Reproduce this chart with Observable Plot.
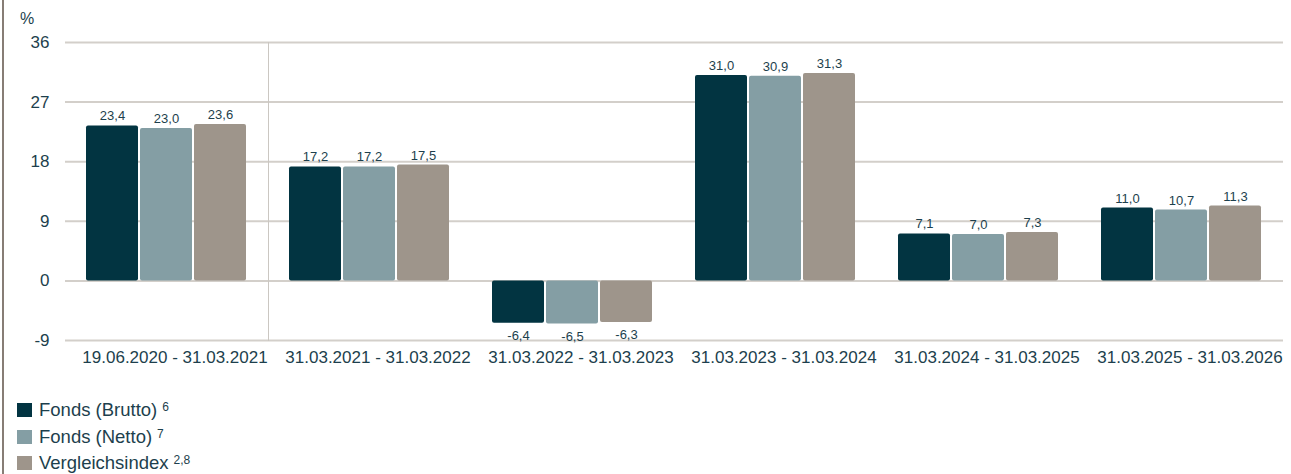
<!DOCTYPE html>
<html>
<head>
<meta charset="utf-8">
<script src="https://cdn.jsdelivr.net/npm/d3@7"></script>
<script src="https://cdn.jsdelivr.net/npm/@observablehq/plot@0.6"></script>
<style>
  html, body { margin: 0; padding: 0; background: #fff; }
  body { width: 1291px; height: 474px; position: relative; overflow: hidden;
         font-family: "Liberation Sans", Arial, sans-serif; color: #1d3f4d; }
  #border { position: absolute; left: 2px; top: 0; width: 2px; height: 474px; background: #877d75; }
  #chart { position: absolute; left: 0; top: 0; }
  #unit { position: absolute; left: 20px; top: 10px; font-size: 16px; line-height: 18px; }
  #legend { position: absolute; left: 17px; top: 397px; font-size: 18.5px; }
  .row { height: 26.5px; line-height: 26.5px; display: flex; align-items: center; white-space: nowrap; }
  .sw { width: 15px; height: 14px; margin-right: 7px; display: inline-block; }
  .row sup { font-size: 12px; position: relative; top: -3px; vertical-align: top; line-height: 1; margin-left: 5px; }
</style>
</head>
<body>
<div id="chart"></div>
<div id="border"></div>
<div id="unit">%</div>
<div id="legend"></div>
<script>
const categories = [
  "19.06.2020 - 31.03.2021",
  "31.03.2021 - 31.03.2022",
  "31.03.2022 - 31.03.2023",
  "31.03.2023 - 31.03.2024",
  "31.03.2024 - 31.03.2025",
  "31.03.2025 - 31.03.2026"
];
const series = ["Fonds (Brutto)", "Fonds (Netto)", "Vergleichsindex"];
const footnotes = ["6", "7", "2,8"];
const colors = ["#023441", "#849ea4", "#9e958b"];
const brutto = [23.4, 17.2, -6.4, 31.0, 7.1, 11.0];
const netto = [23.0, 17.2, -6.5, 30.9, 7.0, 10.7];
const index = [23.6, 17.5, -6.3, 31.3, 7.3, 11.3];
const yTicks = [-9, 0, 9, 18, 27, 36];

const values = [brutto, netto, index];
const data = [];
categories.forEach((c, i) => series.forEach((s, j) => data.push({cat: c, series: s, value: values[j][i]})));
const fmt = v => v.toFixed(1).replace(".", ",");

const plot = Plot.plot({
  width: 1291,
  height: 385,
  marginLeft: 64,
  marginRight: 7,
  marginTop: 42,
  marginBottom: 45,
  style: {fontFamily: '"Liberation Sans", Arial, sans-serif', fontSize: "17px", color: "#1d3f4d", background: "transparent"},
  fx: {domain: categories, padding: 0, label: null},
  x: {domain: series, paddingInner: 0.036, paddingOuter: 0.366, axis: null},
  y: {domain: [-9, 36], label: null},
  color: {domain: series, range: colors},
  marks: [
    Plot.ruleY(yTicks, {stroke: "#d3cfca", strokeWidth: 2}),
    Plot.frame({anchor: "right", fx: () => categories[0], stroke: "#cbc7c2", strokeWidth: 1}),
    Plot.barY(data, {fx: "cat", x: "series", y: "value", fill: "series", rx: 2}),
    Plot.text(data.filter(d => d.value >= 0), {fx: "cat", x: "series", y: "value", text: d => fmt(d.value),
      lineAnchor: "bottom", dy: -5.5, fontSize: 13, fill: "#1d3f4d"}),
    Plot.text(data.filter(d => d.value < 0), {fx: "cat", x: "series", y: "value", text: d => fmt(d.value),
      lineAnchor: "top", dy: 7.5, fontSize: 13, fill: "#1d3f4d"}),
    Plot.axisY({ticks: yTicks, tickSize: 0, tickPadding: 16, fontSize: 17, label: null, tickFormat: d => String(d)}),
    Plot.axisFx({anchor: "bottom", tickSize: 0, tickPadding: 10, fontSize: 17, label: null, dx: 8})
  ]
});
document.getElementById("chart").appendChild(plot);

const legend = document.getElementById("legend");
series.forEach((s, i) => {
  const row = document.createElement("div");
  row.className = "row";
  row.innerHTML = `<span class="sw" style="background:${colors[i]}"></span><span>${s}</span><sup>${footnotes[i]}</sup>`;
  legend.appendChild(row);
});
</script>
</body>
</html>
